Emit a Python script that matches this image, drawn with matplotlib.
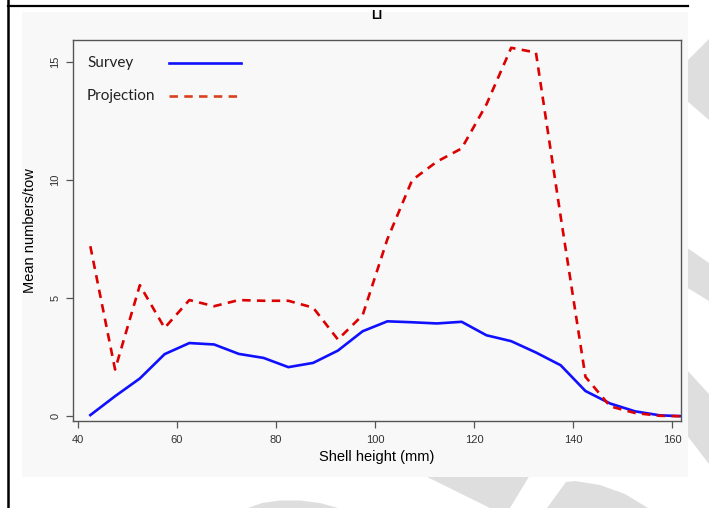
import matplotlib
matplotlib.use("Agg")
import matplotlib.pyplot as plt
from matplotlib.patches import Rectangle, Polygon
from matplotlib.lines import Line2D

# shell height bins (mm) and mean numbers per tow
shell_height = [42.5, 47.5, 52.5, 57.5, 62.5, 67.5, 72.5, 77.5, 82.5, 87.5,
                92.5, 97.5, 102.5, 107.5, 112.5, 117.5, 122.5, 127.5, 132.5,
                137.5, 142.5, 147.5, 152.5, 157.5, 162.5]
survey = [0.05, 0.85, 1.6, 2.63, 3.1, 3.04, 2.64, 2.47, 2.08, 2.26,
          2.78, 3.6, 4.02, 3.98, 3.93, 4.0, 3.43, 3.18, 2.7,
          2.16, 1.07, 0.54, 0.21, 0.04, 0.0]
projection = [7.2, 1.98, 5.55, 3.74, 4.92, 4.66, 4.92, 4.89, 4.89, 4.6,
              3.25, 4.28, 7.5, 10.0, 10.78, 11.34, 13.2, 15.6, 15.4,
              8.45, 1.67, 0.42, 0.14, 0.02, 0.0]
series_names = ["Survey", "Projection"]
x_ticks = [40, 60, 80, 100, 120, 140, 160]
y_ticks = [0, 5, 10, 15]

W, H = 709, 508
BLUE = "#1010ff"
RED = "#dd0000"
GREY_WM = "#dedede"


def fx(px):
    return px / W


def fy(py):
    return 1 - py / H


fig = plt.figure(figsize=(W / 100, H / 100), dpi=100)
fig.patch.set_facecolor("white")

# light grey watermark shapes behind the chart panel
wm_shapes = [
    [(686, 62), (709, 39), (709, 120), (686, 100)],
    [(686, 247), (709, 263), (709, 301), (686, 287)],
    [(686, 369), (709, 394), (709, 464), (686, 434)],
    [(248, 508), (262, 503), (280, 500.5), (300, 500.5), (320, 503), (338, 508)],
    [(413, 470), (533, 470), (510, 508), (490, 508)],
    [(547, 508), (566, 482), (575, 481), (600, 485), (625, 494), (648, 508)],
]
for shp in wm_shapes:
    fig.add_artist(Polygon([(fx(a), fy(b)) for a, b in shp], closed=True,
                           facecolor=GREY_WM, edgecolor="none", zorder=-3,
                           transform=fig.transFigure))

# chart panel
fig.add_artist(Rectangle((fx(22), fy(477)), fx(688) - fx(22), fy(12) - fy(477),
                         facecolor="#f8f8f8", edgecolor="none", zorder=-2,
                         transform=fig.transFigure))

# black page borders
fig.add_artist(Line2D([fx(8), fx(8)], [0, 1], color="black", lw=1.8))
fig.add_artist(Line2D([fx(8), fx(688)], [fy(6), fy(6)], color="black", lw=1.6))

ax = fig.add_axes([fx(73), fy(421), fx(681) - fx(73), fy(40) - fy(421)])
ax.set_facecolor("#f8f8f8")

ax.plot(shell_height, survey, color=BLUE, lw=1.9, solid_joinstyle="round")
ax.plot(shell_height, projection, color=RED, lw=1.9, dashes=(3.2, 2.4))

ax.set_xlim(39, 161.8)
ax.set_ylim(-0.2, 15.93)
ax.set_xticks(x_ticks)
ax.set_yticks(y_ticks)
ax.set_xticklabels([str(v) for v in x_ticks], fontsize=8, color="#333333",
                   family="Liberation Sans")
ax.set_yticklabels([str(v) for v in y_ticks], fontsize=8, color="#333333",
                   family="Liberation Sans", rotation=90, va="center")
ax.tick_params(axis="both", direction="out", length=5, width=0.9,
               color="#555555")
ax.tick_params(axis="x", pad=5)
ax.tick_params(axis="y", pad=4)
for sp in ax.spines.values():
    sp.set_color("#555555")
    sp.set_linewidth(1.0)

ax.set_xlabel("Shell height (mm)", fontsize=10.5, family="Liberation Sans",
              labelpad=4)
ax.set_ylabel("Mean numbers/tow", fontsize=10.5, family="Liberation Sans",
              labelpad=10)

# legend: label on the left, line sample on the right
leg_y = [0.94, 0.853]
leg_styles = [dict(color=BLUE, lw=1.9), dict(color="#d9411e", lw=1.9, dashes=(3.2, 2.4))]
for name, yy, st in zip(series_names, leg_y, leg_styles):
    ax.text(0.023, yy, name, transform=ax.transAxes, fontsize=11,
            family="Lato", va="center", ha="left", color="#222222")
    ax.add_line(Line2D([0.158, 0.276], [yy, yy], transform=ax.transAxes, **st))

fig.text(fx(377), fy(16), "LI", fontsize=9, fontweight="bold",
         family="Liberation Sans", ha="center", va="center", zorder=5)

fig.savefig("out.png", dpi=100)
